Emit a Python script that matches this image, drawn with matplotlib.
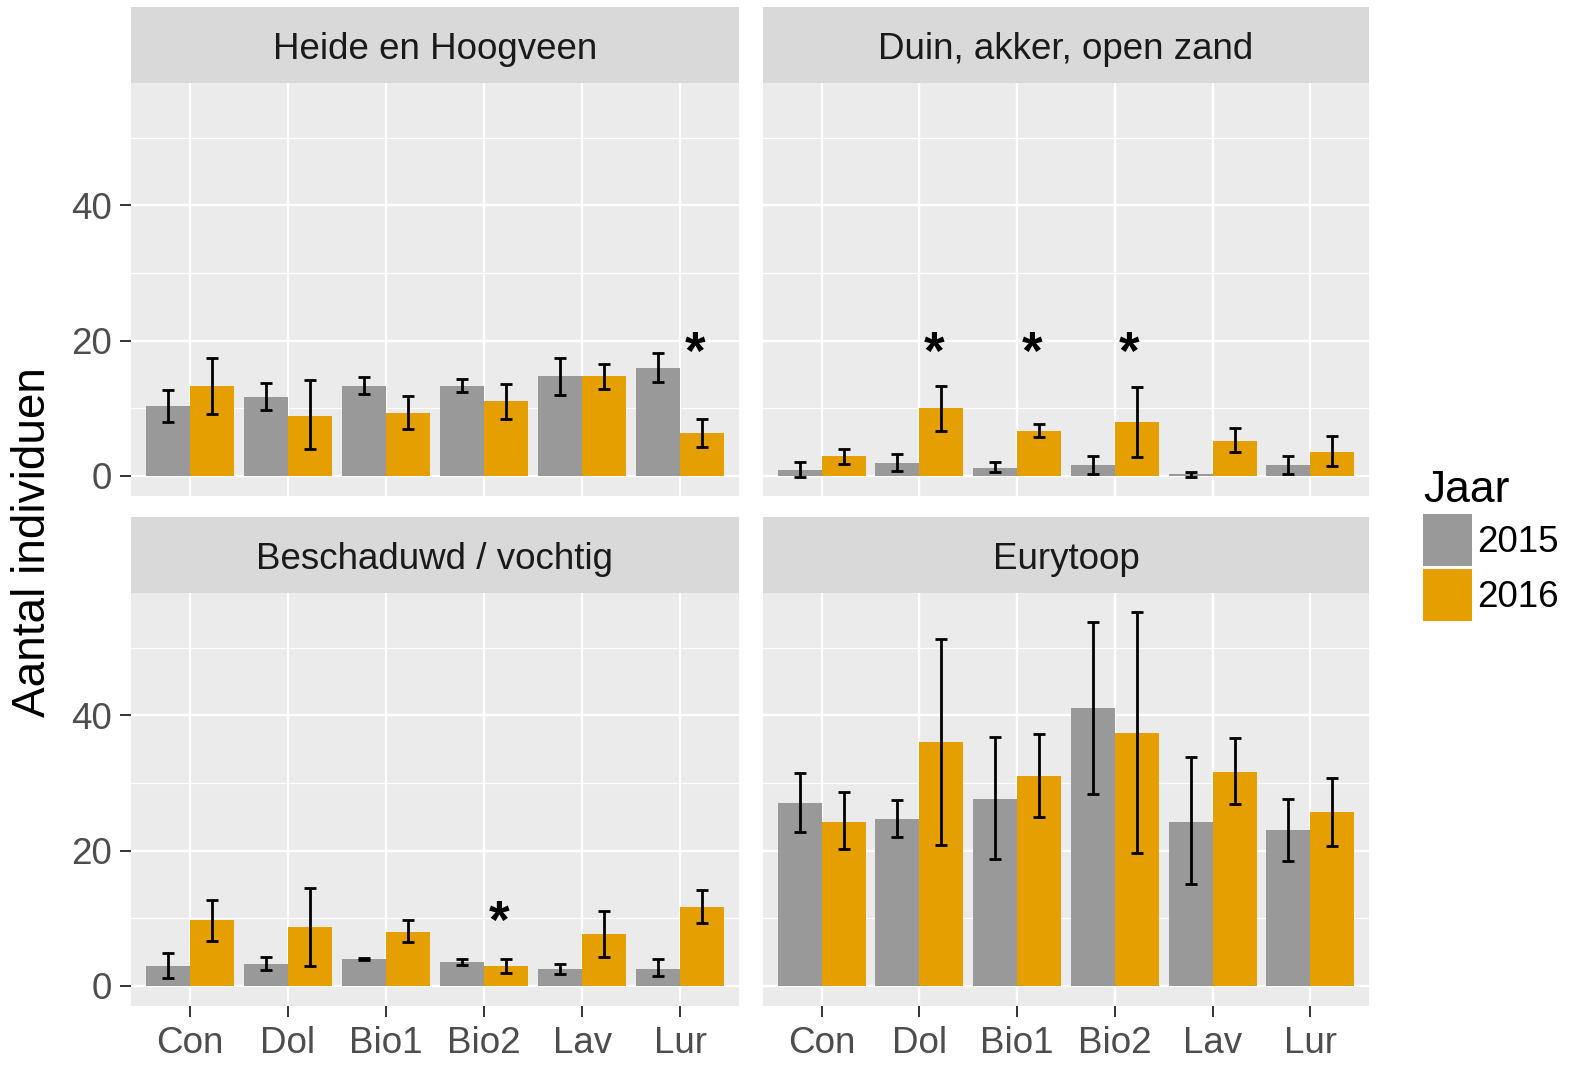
import numpy as np
import matplotlib
matplotlib.use('Agg')
import matplotlib.pyplot as plt
from matplotlib.patches import Patch

plt.rcParams['font.family'] = ['Liberation Sans', 'DejaVu Sans']

# behandelingen en jaren
categories = ['Con', 'Dol', 'Bio1', 'Bio2', 'Lav', 'Lur']
years = ['2015', '2016']
panels = ['Heide en Hoogveen', 'Duin, akker, open zand', 'Beschaduwd / vochtig', 'Eurytoop']

# gemiddelden + onder/bovengrens foutbalk, per habitatgroep
heide_2015 = [10.3, 11.7, 13.3, 13.3, 14.7, 16.0]
heide_2015_lo = [8.0, 9.7, 12.1, 12.4, 11.9, 13.9]
heide_2015_hi = [12.7, 13.7, 14.6, 14.3, 17.5, 18.2]
heide_2016 = [13.3, 8.9, 9.3, 11.0, 14.7, 6.3]
heide_2016_lo = [9.1, 4.0, 6.9, 8.4, 12.8, 4.2]
heide_2016_hi = [17.5, 14.2, 11.8, 13.6, 16.6, 8.4]

duin_2015 = [0.9, 1.9, 1.2, 1.6, 0.25, 1.6]
duin_2015_lo = [-0.2, 0.7, 0.5, 0.3, -0.2, 0.3]
duin_2015_hi = [2.0, 3.2, 2.0, 2.9, 0.6, 2.9]
duin_2016 = [3.0, 10.0, 6.6, 8.0, 5.2, 3.6]
duin_2016_lo = [1.8, 6.7, 5.7, 2.8, 3.5, 1.4]
duin_2016_hi = [4.0, 13.3, 7.6, 13.2, 7.1, 5.9]

schaduw_2015 = [2.9, 3.2, 3.9, 3.6, 2.5, 2.5]
schaduw_2015_lo = [1.1, 2.3, 3.8, 3.1, 1.8, 1.4]
schaduw_2015_hi = [4.8, 4.3, 4.1, 4.0, 3.3, 3.9]
schaduw_2016 = [9.7, 8.7, 8.0, 2.9, 7.7, 11.7]
schaduw_2016_lo = [6.7, 2.9, 6.5, 1.9, 4.3, 9.3]
schaduw_2016_hi = [12.7, 14.5, 9.7, 4.0, 11.1, 14.2]

eury_2015 = [27.0, 24.7, 27.7, 41.1, 24.3, 23.0]
eury_2015_lo = [22.7, 22.0, 18.7, 28.4, 15.0, 18.4]
eury_2015_hi = [31.5, 27.5, 36.8, 53.8, 33.8, 27.7]
eury_2016 = [24.3, 36.1, 31.0, 37.4, 31.7, 25.7]
eury_2016_lo = [20.2, 20.9, 25.0, 19.6, 26.9, 20.7]
eury_2016_hi = [28.6, 51.3, 37.2, 55.3, 36.6, 30.8]

# sterretjes (significant): index behandeling, hoogte
stars_heide = ([5], [20.2])
stars_duin = ([1, 2, 3], [20.2, 20.2, 20.2])
stars_schaduw = ([3], [11.5])
stars_eury = ([], [])

colors = ['#999999', '#E69F00']

data = [
    (heide_2015, heide_2015_lo, heide_2015_hi, heide_2016, heide_2016_lo, heide_2016_hi, stars_heide),
    (duin_2015, duin_2015_lo, duin_2015_hi, duin_2016, duin_2016_lo, duin_2016_hi, stars_duin),
    (schaduw_2015, schaduw_2015_lo, schaduw_2015_hi, schaduw_2016, schaduw_2016_lo, schaduw_2016_hi, stars_schaduw),
    (eury_2015, eury_2015_lo, eury_2015_hi, eury_2016, eury_2016_lo, eury_2016_hi, stars_eury),
]

W, H = 1574, 1065
fig = plt.figure(figsize=(W / 100, H / 100), dpi=100)

def px(x0, y0, x1, y1):
    return [x0 / W, 1 - y1 / H, (x1 - x0) / W, (y1 - y0) / H]

panel_boxes = [(131, 83, 739, 496), (763, 83, 1369, 496),
               (131, 593, 739, 1006), (763, 593, 1369, 1006)]
strip_boxes = [(131, 7, 739, 83), (763, 7, 1369, 83),
               (131, 517, 739, 593), (763, 517, 1369, 593)]

x = np.arange(1, len(categories) + 1)
bw = 0.45
star_size = 38

for k, (m1, l1, h1, m2, l2, h2, stars) in enumerate(data):
    ax = fig.add_axes(px(*panel_boxes[k]))
    ax.set_facecolor('#EBEBEB')
    ax.set_xlim(0.4, 6.6)
    ax.set_ylim(-2.98, 58.1)
    for s in ax.spines.values():
        s.set_visible(False)
    for yv in [10, 30, 50]:
        ax.axhline(yv, color='white', lw=0.9, zorder=0)
    for yv in [0, 20, 40]:
        ax.axhline(yv, color='white', lw=1.7, zorder=0)
    for xv in x:
        ax.axvline(xv, color='white', lw=1.7, zorder=0)

    for j, (m, lo, hi) in enumerate([(m1, l1, h1), (m2, l2, h2)]):
        m = np.array(m)
        xs = x + (j - 0.5) * bw
        ax.bar(xs, m, width=bw, color=colors[j], zorder=2)
        ax.errorbar(xs, m, yerr=[m - np.array(lo), np.array(hi) - m], fmt='none',
                    ecolor='black', elinewidth=2.0, capsize=4.2, capthick=2.0, zorder=3)

    # asterisk glyph sits high in the em box -> shift baseline down
    for i, yv in zip(*stars):
        ax.annotate('*', (x[i] + 0.15, yv), xytext=(0, -0.57 * star_size),
                    textcoords='offset points', fontsize=star_size, fontweight='bold',
                    ha='center', va='baseline', color='black', zorder=4)

    ax.set_yticks([0, 20, 40])
    ax.set_xticks(x)
    ax.tick_params(axis='both', length=8, width=1.4, color='#333333',
                   labelsize=26.5, labelcolor='#4D4D4D')
    ax.tick_params(axis='x', pad=6.5)
    ax.tick_params(axis='y', pad=5.5)
    if k % 2 == 0:
        ax.set_yticklabels(['0', '20', '40'])
    else:
        ax.tick_params(axis='y', left=False, labelleft=False)
    if k >= 2:
        ax.set_xticklabels(categories)
    else:
        ax.tick_params(axis='x', bottom=False, labelbottom=False)

    sax = fig.add_axes(px(*strip_boxes[k]))
    sax.set_facecolor('#D9D9D9')
    sax.set_xticks([])
    sax.set_yticks([])
    for s in sax.spines.values():
        s.set_visible(False)
    sax.text(0.5, 0.44, panels[k], ha='center', va='center', fontsize=26.5, color='#1A1A1A',
             transform=sax.transAxes)

fig.text(33 / W, 1 - 542 / H, 'Aantal individuen', rotation=90, ha='center', va='center',
         fontsize=33, color='black')

handles = [Patch(facecolor=c, edgecolor='none') for c in colors]
leg = fig.legend(handles, years, title='Jaar', loc='upper left',
                 bbox_to_anchor=(1423 / W, 1 - 470 / H), frameon=False,
                 fontsize=26.5, title_fontsize=32, handlelength=1.33, handleheight=1.8,
                 handletextpad=0.15, labelspacing=0.08, borderpad=0, borderaxespad=0,
                 alignment='left')

fig.savefig('out.png', dpi=100)
